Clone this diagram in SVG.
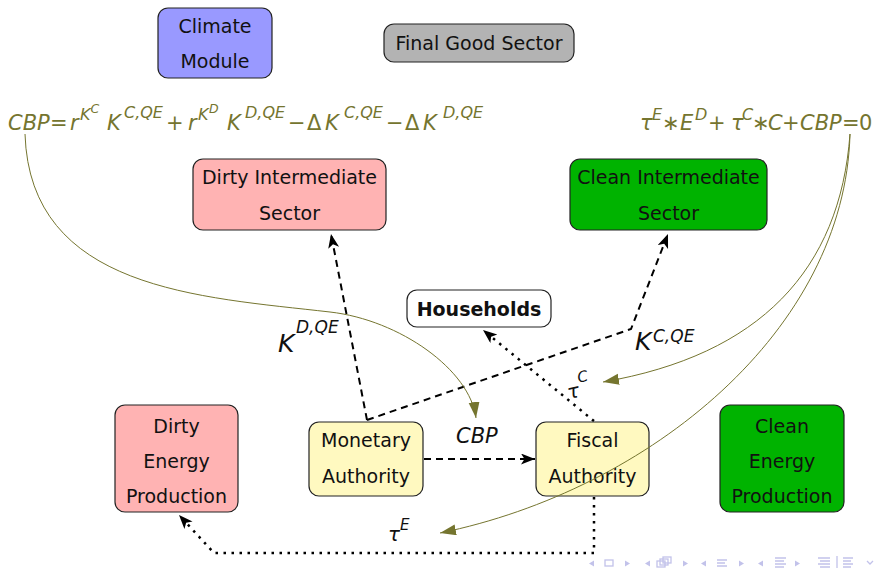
<svg xmlns="http://www.w3.org/2000/svg" width="874" height="568" viewBox="0 0 874 568">
<style>
.box{stroke:#222;stroke-width:1.2}
.t{font-family:"DejaVu Sans",sans-serif;font-size:19px;fill:#111;text-anchor:middle}
.b{font-weight:bold}
.m{font-family:"DejaVu Sans",sans-serif;font-style:italic;fill:#111}
.ol{fill:#75752f}
.up{font-style:normal}
.dash{fill:none;stroke:#000;stroke-width:2;stroke-dasharray:7 5}
.dot{fill:none;stroke:#000;stroke-width:2.5;stroke-dasharray:2.5 5.5}
.oc{fill:none;stroke:#75752f;stroke-width:1}
.nav{fill:#c2c2ea;stroke:none}
.navs{fill:none;stroke:#c2c2ea;stroke-width:1.3}
</style>
<defs>
<marker id="ah" markerUnits="userSpaceOnUse" markerWidth="16" markerHeight="12" refX="14" refY="5.5" orient="auto">
<path d="M0,0 L14,5.5 L0,11 L3.5,5.5 z" fill="#000"/>
</marker>
<marker id="oa" markerUnits="userSpaceOnUse" markerWidth="18" markerHeight="12" refX="16" refY="5.5" orient="auto">
<path d="M0,0 L16,5.5 L0,11 z" fill="#75752f"/>
</marker>
</defs>

<g id="climate">
<rect class="box" x="158" y="8" width="114" height="70" rx="10" fill="#9999ff"/>
<text class="t" x="215" y="33">Climate</text>
<text class="t" x="215" y="68">Module</text>
</g>
<g id="finalgood">
<rect class="box" x="384" y="24" width="190" height="38" rx="10" fill="#b3b3b3"/>
<text class="t" x="479" y="50">Final Good Sector</text>
</g>
<g id="dirtyint">
<rect class="box" x="193" y="159" width="193" height="71" rx="10" fill="#ffb3b3"/>
<text class="t" x="289.5" y="184">Dirty Intermediate</text>
<text class="t" x="289.5" y="220">Sector</text>
</g>
<g id="cleanint">
<rect class="box" x="570" y="159" width="197" height="71" rx="10" fill="#00b300"/>
<text class="t" x="668.5" y="184">Clean Intermediate</text>
<text class="t" x="668.5" y="220">Sector</text>
</g>
<g id="households">
<rect class="box" x="407" y="290" width="144" height="37" rx="10" fill="#ffffff"/>
<text class="t b" x="479" y="316">Households</text>
</g>
<g id="dirtyenergy">
<rect class="box" x="115" y="405" width="123" height="107" rx="10" fill="#ffb3b3"/>
<text class="t" x="176.5" y="433">Dirty</text>
<text class="t" x="176.5" y="468">Energy</text>
<text class="t" x="176.5" y="503">Production</text>
</g>
<g id="monetary">
<rect class="box" x="309" y="422" width="114" height="74" rx="10" fill="#fff9c0"/>
<text class="t" x="366" y="447">Monetary</text>
<text class="t" x="366" y="483">Authority</text>
</g>
<g id="fiscal">
<rect class="box" x="536" y="422" width="113" height="74" rx="10" fill="#fff9c0"/>
<text class="t" x="592.5" y="447">Fiscal</text>
<text class="t" x="592.5" y="483">Authority</text>
</g>
<g id="cleanenergy">
<rect class="box" x="720" y="405" width="124" height="107" rx="10" fill="#00b300"/>
<text class="t" x="782" y="433">Clean</text>
<text class="t" x="782" y="468">Energy</text>
<text class="t" x="782" y="503">Production</text>
</g>

<g id="connectors">
<path class="dash" d="M367,420 L331,234" marker-end="url(#ah)"/>
<path class="dash" d="M367,420 L631,329 L668,234" marker-end="url(#ah)"/>
<path class="dash" d="M424,459 L535,459" marker-end="url(#ah)"/>
<path class="dot" d="M594,421 L483,330" marker-end="url(#ah)"/>
<path class="dot" d="M594,497 L594,553 L214,553 L179,515" marker-end="url(#ah)"/>
<path class="oc" d="M25,134 C30,290 200,297 330,312 C400,320 470,370 476,418" marker-end="url(#oa)"/>
<path class="oc" d="M850,134 C840,270 760,355 603,382" marker-end="url(#oa)"/>
<path class="oc" d="M850,134 C845,330 650,490 440,533" marker-end="url(#oa)"/>
</g>

<g id="formula-left" class="m ol" font-size="21">
<text x="8" y="130">CBP</text>
<text class="up" x="50" y="130">=</text>
<text x="70" y="130">r</text>
<text x="80" y="120" font-size="16">K</text>
<text x="90.5" y="113" font-size="12.5">C</text>
<text x="107" y="130">K</text>
<text x="124" y="118" font-size="16">C,QE</text>
<text class="up" x="166" y="130">+</text>
<text x="188" y="130">r</text>
<text x="198" y="120" font-size="16">K</text>
<text x="209" y="113" font-size="12.5">D</text>
<text x="227" y="130">K</text>
<text x="245" y="118" font-size="16">D,QE</text>
<text class="up" x="288" y="130">−</text>
<text class="up" x="307" y="130">Δ</text>
<text x="325" y="130">K</text>
<text x="344" y="118" font-size="16">C,QE</text>
<text class="up" x="386" y="130">−</text>
<text class="up" x="405" y="130">Δ</text>
<text x="423" y="130">K</text>
<text x="443" y="118" font-size="16">D,QE</text>
</g>
<g id="formula-right" class="m ol" font-size="21">
<text x="640" y="130">τ</text>
<text x="652" y="120" font-size="16">E</text>
<text class="up" x="662" y="130">∗</text>
<text x="680" y="130">E</text>
<text x="695" y="120" font-size="16">D</text>
<text class="up" x="708" y="130">+</text>
<text x="731" y="130">τ</text>
<text x="742" y="120" font-size="16">C</text>
<text class="up" x="752" y="130">∗</text>
<text x="768" y="130">C</text>
<text class="up" x="782" y="130">+</text>
<text x="800" y="130">CBP</text>
<text class="up" x="842" y="130">=</text>
<text class="up" x="859" y="130">0</text>
</g>

<g id="labels" class="m">
<text x="278" y="352" font-size="25">K</text>
<text x="296" y="333" font-size="17">D,QE</text>
<text x="635" y="350" font-size="25">K</text>
<text x="653" y="342" font-size="17">C,QE</text>
<text x="456" y="443" font-size="21">CBP</text>
<g transform="rotate(-12 578 390)">
<text x="567" y="397" font-size="20">τ</text>
<text x="580" y="383" font-size="15">C</text>
</g>
<text x="388" y="541" font-size="20">τ</text>
<text x="400" y="530" font-size="15">E</text>
</g>

<g id="nav">
<path class="nav" d="M589,563.5 L594,560.5 L594,566.5 z"/>
<rect class="navs" x="605" y="560" width="8" height="6"/>
<path class="nav" d="M630,563.5 L625,560.5 L625,566.5 z"/>
<path class="nav" d="M645,563.5 L650,560.5 L650,566.5 z"/>
<rect class="navs" x="657" y="561" width="8" height="6"/>
<rect class="navs" x="660" y="559" width="8" height="6" fill="#fff"/>
<rect class="navs" x="663" y="557" width="8" height="6" fill="#fff"/>
<path class="nav" d="M688,563.5 L683,560.5 L683,566.5 z"/>
<path class="nav" d="M701,563.5 L706,560.5 L706,566.5 z"/>
<path class="navs" d="M717,560 H727 M717,563 H725 M717,566 H727"/>
<path class="nav" d="M744,563.5 L739,560.5 L739,566.5 z"/>
<path class="nav" d="M758,563.5 L763,560.5 L763,566.5 z"/>
<path class="navs" d="M775,558 H786 M775,561 H784 M775,564 H786 M775,567 H784"/>
<path class="nav" d="M800,563.5 L795,560.5 L795,566.5 z"/>
<path class="navs" d="M818,558 H830 M820,561 H830 M818,564 H830 M820,567 H830"/>
<path class="navs" d="M837,556 V568"/>
<path class="navs" d="M843,558 H853 M843,561 H851 M843,564 H853 M843,567 H851"/>
<path class="navs" d="M867,561 L870,564 L873,561"/>
</g>
</svg>
